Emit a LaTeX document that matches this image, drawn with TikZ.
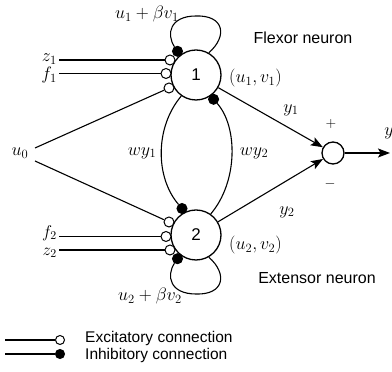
\documentclass[tikz,border=0pt]{standalone}
\usepackage{fix-cm}
\usepackage{fontspec}
\newfontfamily\arialf{Liberation Sans}
\usetikzlibrary{arrows.meta}
\begin{document}
\begin{tikzpicture}[x=1pt,y=1pt,
  neuron/.style={circle,draw,line width=1.3pt,minimum size=50pt,inner sep=0pt,font=\fontsize{17}{20}\arialf},
  sumnode/.style={circle,draw,line width=1.3pt,minimum size=22pt,inner sep=0pt},
  exc/.style={circle,draw,fill=white,line width=1pt,minimum size=10pt,inner sep=0pt},
  inh/.style={circle,draw,fill=black,line width=1pt,minimum size=10pt,inner sep=0pt},
  conn/.style={line width=1.1pt},
  arr/.style={line width=1.1pt,-{Stealth[length=12pt,width=9pt,inset=2.5pt]}},
  lab/.style={font=\fontsize{18}{21}\selectfont,inner sep=0pt},
  txt/.style={font=\fontsize{16}{19}\arialf,inner sep=0pt}]
\useasboundingbox (0,0) rectangle (392,372);
% neurons
\node[neuron] (N1) at (196,297) {1};
\node[neuron] (N2) at (196,137) {2};
\node[sumnode] (S) at (333,219) {};
% synapses neuron 1
\node[exc] (a1) at (170,312) {};
\node[exc] (b1) at (166,298.5) {};
\node[exc] (c1) at (169,284) {};
\node[inh] (d1) at (177.5,320.7) {};
\node[inh] (e1) at (213.6,272.7) {};
% synapses neuron 2
\node[exc] (c2) at (169,150) {};
\node[exc] (b2) at (166,135.5) {};
\node[exc] (a2) at (170,122) {};
\node[inh] (d2) at (177.5,113.3) {};
\node[inh] (e2) at (182,163.5) {};
% input labels
\node[lab,anchor=east] (lz1) at (57,313) {$z_1$};
\node[lab,anchor=east] (lf1) at (57,297) {$f_1$};
\node[lab,anchor=east,font=\fontsize{17}{20}\selectfont] (lf2) at (57,139) {$f_2$};
\node[lab,anchor=east,font=\fontsize{17}{20}\selectfont] (lz2) at (57,119) {$z_2$};
\coordinate (sz1) at (59,312);
\coordinate (sf1) at (59,298.5);
\coordinate (sf2) at (59,135.5);
\coordinate (sz2) at (59,122);
\draw[conn] (sz1) -- (a1);
\draw[conn] (sf1) -- (b1);
\draw[conn] (sf2) -- (b2);
\draw[conn] (sz2) -- (a2);
% u0
\node[lab] (u0) at (20,219) {$u_0$};
\coordinate (u0a) at (35,224);
\coordinate (u0b) at (35,211);
\draw[conn] (u0a) -- (c1);
\draw[conn] (u0b) -- (c2);
% self loops
\draw[conn] (d1) .. controls (166,338) and (170,356) .. (196,356)
                 .. controls (224,357) and (228,336) .. (N1.60);
\draw[conn] (d2) .. controls (166,96) and (170,78) .. (196,78)
                 .. controls (224,77) and (228,98) .. (N2.-60);
% mutual inhibition
\draw[conn] (N1.235) .. controls (155,245) and (155,195) .. (e2);
\draw[conn] (N2.55) .. controls (238,190) and (238,245) .. (e1);
% outputs
\draw[arr] (N1) -- (S);
\draw[arr] (N2) -- (S);
\coordinate (yo) at (390,219);
\draw[arr] (S) -- (yo);
% labels
\node[lab] (l1) at (147,358) {$u_1+\beta v_1$};
\node[lab] (l2) at (150,76) {$u_2+\beta v_2$};
\node[lab,anchor=west] (uv1) at (229,294) {$(u_1,v_1)$};
\node[lab,anchor=west] (uv2) at (229,127) {$(u_2,v_2)$};
\node[lab] (w1) at (142,219) {$wy_1$};
\node[lab] (w2) at (254,219) {$wy_2$};
\node[lab] (y1) at (291,262) {$y_1$};
\node[lab] (y2) at (287,160) {$y_2$};
\node[lab,font=\fontsize{14}{16}\selectfont] (pl) at (331,248) {$+$};
\node[lab,font=\fontsize{14}{16}\selectfont] (mi) at (330,188) {$-$};
\node[lab] (yl) at (389,239) {$y$};
\node[txt] (fl) at (303,334) {Flexor neuron};
\node[txt] (ex) at (317,94) {Extensor neuron};
% legend
\coordinate (L1) at (5,32);
\coordinate (L2) at (5,18);
\node[exc,minimum size=9pt] (g1) at (60,32) {};
\node[inh,minimum size=9pt] (g2) at (60,18) {};
\draw[conn] (L1) -- (g1);
\draw[conn] (L2) -- (g2);
\node[txt,anchor=west,font=\fontsize{15.5}{18}\arialf] (t1) at (85,33.5) {Excitatory connection};
\node[txt,anchor=west,font=\fontsize{15.5}{18}\arialf] (t2) at (85,16.5) {Inhibitory connection};
\end{tikzpicture}
\end{document}
